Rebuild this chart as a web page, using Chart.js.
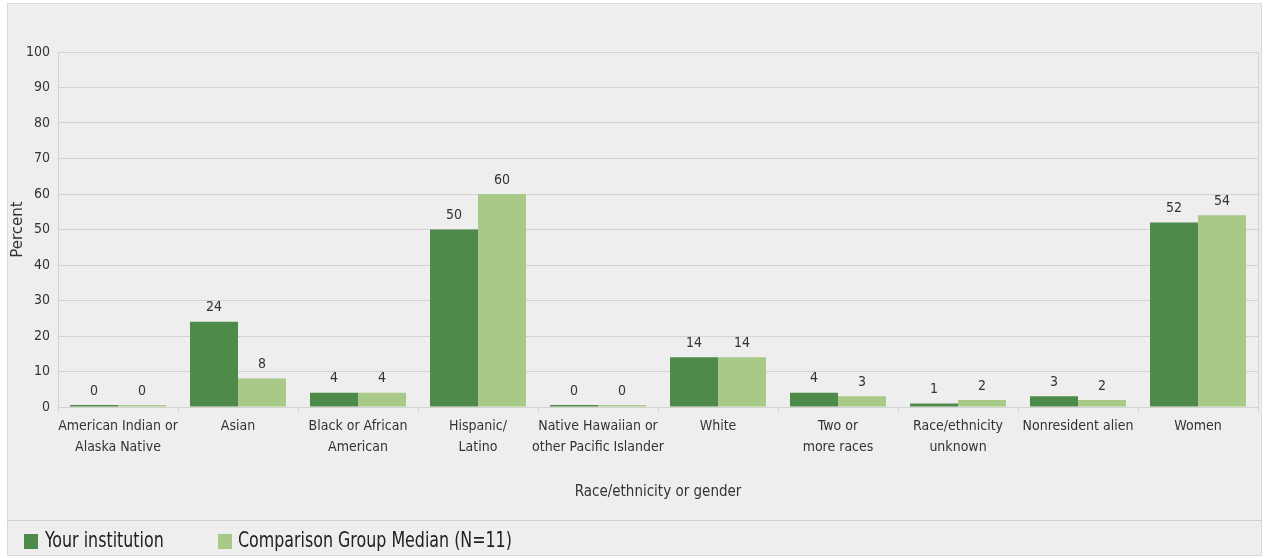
<!DOCTYPE html>
<html>
<head>
<meta charset="utf-8">
<title>Race/ethnicity or gender</title>
<script src="https://cdn.jsdelivr.net/npm/chart.js@4"></script>
<style>
  html, body { margin: 0; padding: 0; background: #ffffff; }
  canvas { display: block; }
</style>
</head>
<body>
<canvas id="chart" width="1268" height="558"></canvas>
<script>
const categories = [
    ['American Indian or', 'Alaska Native'],
    'Asian',
    ['Black or African', 'American'],
    ['Hispanic/', 'Latino'],
    ['Native Hawaiian or', 'other Pacific Islander'],
    'White',
    ['Two or', 'more races'],
    ['Race/ethnicity', 'unknown'],
    'Nonresident alien',
    'Women'
];
const yourInstitution = [0, 24, 4, 50, 0, 14, 4, 1, 3, 52];
const comparisonMedian = [0, 8, 4, 60, 0, 14, 3, 2, 2, 54];
const seriesNames = ['Your institution', 'Comparison Group Median (N=11)'];
const yTicks = [0, 10, 20, 30, 40, 50, 60, 70, 80, 90, 100];

const narrow = "'Liberation Sans Narrow', 'DejaVu Sans Condensed', sans-serif";
const textColor = '#333333';
const gridColor = '#d2d2d2';
const darkGreen = '#4e8a4a';
const lightGreen = '#a8c987';

// panel background, separator, right border of plot, legend
const panelPlugin = {
    id: 'panel',
    beforeDraw(chart) {
        const ctx = chart.ctx;
        ctx.save();
        ctx.fillStyle = '#eeeeee';
        ctx.fillRect(7, 3, 1255, 553);
        ctx.strokeStyle = '#dadada';
        ctx.lineWidth = 1;
        ctx.strokeRect(7.5, 3.5, 1254, 552);
        ctx.beginPath();
        ctx.moveTo(7, 520.5);
        ctx.lineTo(1262, 520.5);
        ctx.strokeStyle = '#d0d0d0';
        ctx.stroke();
        ctx.restore();
    },
    afterDraw(chart) {
        const ctx = chart.ctx;
        const area = chart.chartArea;
        ctx.save();
        ctx.strokeStyle = gridColor;
        ctx.beginPath();
        ctx.moveTo(Math.round(area.right) + 0.5, area.top);
        ctx.lineTo(Math.round(area.right) + 0.5, area.bottom);
        ctx.stroke();

        const items = [{ box: 24, text: 45 }, { box: 218, text: 238 }];
        chart.data.datasets.forEach((ds, i) => {
            ctx.fillStyle = ds.backgroundColor;
            ctx.fillRect(items[i].box, 534, 14, 15);
            ctx.save();
            ctx.translate(items[i].text, 542);
            ctx.scale(0.84, 1);
            ctx.fillStyle = '#222222';
            ctx.font = '21px ' + narrow;
            ctx.textBaseline = 'middle';
            ctx.textAlign = 'left';
            ctx.fillText(ds.label, 0, 0);
            ctx.restore();
        });
        ctx.restore();
    }
};

// value labels above the bars
const valueLabels = {
    id: 'valueLabels',
    afterDatasetsDraw(chart) {
        const ctx = chart.ctx;
        ctx.save();
        ctx.font = '14px ' + narrow;
        ctx.fillStyle = textColor;
        ctx.textAlign = 'center';
        ctx.textBaseline = 'middle';
        chart.data.datasets.forEach((ds, i) => {
            chart.getDatasetMeta(i).data.forEach((bar, j) => {
                ctx.fillText(String(ds.data[j]), bar.x, bar.y - 14);
            });
        });
        ctx.restore();
    }
};

new Chart(document.getElementById('chart'), {
    type: 'bar',
    data: {
        labels: categories,
        datasets: [
            { label: seriesNames[0], data: yourInstitution, backgroundColor: darkGreen },
            { label: seriesNames[1], data: comparisonMedian, backgroundColor: lightGreen }
        ]
    },
    options: {
        responsive: false,
        animation: false,
        devicePixelRatio: 1,
        layout: { padding: { top: 52, left: 7, right: 10, bottom: 57 } },
        categoryPercentage: 0.8,
        barPercentage: 1.0,
        minBarLength: 2,
        plugins: {
            legend: { display: false },
            tooltip: { enabled: false }
        },
        scales: {
            x: {
                afterFit(scale) { scale.height = 94; },
                grid: {
                    drawOnChartArea: false,
                    drawTicks: true,
                    tickLength: 5,
                    color: gridColor
                },
                border: { color: gridColor },
                ticks: {
                    color: textColor,
                    font: { family: narrow, size: 14, lineHeight: 1.5 },
                    padding: 4,
                    maxRotation: 0,
                    autoSkip: false
                },
                title: {
                    display: true,
                    text: 'Race/ethnicity or gender',
                    color: textColor,
                    font: { family: narrow, size: 15 },
                    padding: 0
                }
            },
            y: {
                min: 0,
                max: 100,
                afterFit(scale) { scale.width = 51; },
                afterBuildTicks(scale) { scale.ticks = yTicks.map(v => ({ value: v })); },
                grid: { color: gridColor, drawTicks: false },
                border: { color: gridColor },
                ticks: {
                    color: textColor,
                    font: { family: narrow, size: 14 },
                    padding: 8
                },
                title: {
                    display: true,
                    text: 'Percent',
                    color: textColor,
                    font: { family: "'DejaVu Sans', sans-serif", size: 15 },
                    padding: { top: 2 }
                }
            }
        }
    },
    plugins: [panelPlugin, valueLabels]
});
</script>
</body>
</html>
